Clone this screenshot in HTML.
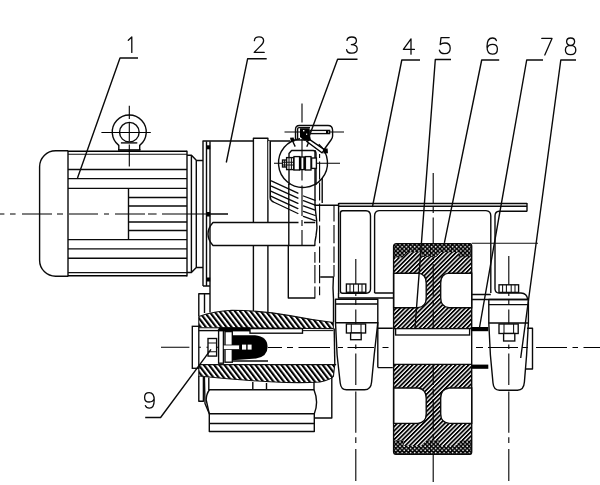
<!DOCTYPE html>
<html>
<head>
<meta charset="utf-8">
<title>Drive assembly</title>
<style>
html,body{margin:0;padding:0;background:#fff;}
body{width:600px;height:485px;overflow:hidden;font-family:"Liberation Sans",sans-serif;}
svg{display:block;}
.o{fill:none;stroke:#0a0a0a;stroke-width:1.4;stroke-linecap:butt;stroke-linejoin:round;}
.t{fill:none;stroke:#111;stroke-width:1.05;}
.k{fill:none;stroke:#000;stroke-width:1.6;}
.c{fill:none;stroke:#000;stroke-width:1.1;}
.w{fill:#fff;stroke:#0a0a0a;stroke-width:1.35;}
.b{fill:#000;stroke:none;}
.n{fill:none;stroke:#0a0a0a;stroke-width:1.3;stroke-linecap:round;stroke-linejoin:round;}
</style>
</head>
<body>
<svg width="600" height="485" viewBox="0 0 600 485">
<defs>
<pattern id="hw" width="3.05" height="8" patternUnits="userSpaceOnUse" patternTransform="rotate(45)"><rect x="0" y="0" width="1.75" height="8" fill="#000"/></pattern>
<pattern id="hs" width="4.1" height="8" patternUnits="userSpaceOnUse" patternTransform="rotate(-37.5)"><rect x="0" y="0" width="2.1" height="8" fill="#000"/></pattern>
<pattern id="ty" width="4.2" height="4.2" patternUnits="userSpaceOnUse"><rect width="4.2" height="4.2" fill="#000"/><circle cx="1" cy="1" r="0.85" fill="#fff"/><circle cx="3.1" cy="3.1" r="0.85" fill="#fff"/></pattern>
</defs>
<rect width="600" height="485" fill="#fff"/>

<!-- SECTION: centerlines -->
<g id="centerlines" class="c">
<path d="M0,214 H4.4 M10,214 H15.6 M22,214 H52 M57,214 H63 M69,214 H98 M104,214 H109 M115,214 H145 M148,214 H156.6 M162,214 H228"/>
<path d="M161,347.3 H189.4 M193.7,347.3 H200.9 M206.5,347.3 H223"/>
<path d="M268,347.5 H282 M287,347.5 H293 M298.5,347.5 H330 M338,347.5 H343 M347.5,347.5 H374 M382.5,347.5 H388.5 M394,347.5 H426 M431,347.5 H437 M441.6,347.5 H472 M476,347.5 H483 M488,347.5 H518 M522,347.5 H528 M536,347.5 H567 M572.5,347.5 H578 M583.5,347.5 H600"/>
<path d="M355.8,259 V296 M355.8,300 V305 M355.8,309.5 V340 M355.8,344.5 V349 M355.8,353.5 V385 M355.8,391.5 V432.7 M355.8,437.2 V443 M355.8,449 V481"/>
<path d="M433.2,173 V203.5 M433.2,206.5 V213 M433.2,217.5 V250 M433.2,254 V260 M433.2,264 V296 M433.2,300 V306 M433.2,310 V340 M433.2,344.5 V350.5 M433.2,354 V385 M433.2,389 V395 M433.2,399 V430 M433.2,434 V440 M433.2,444 V482"/>
<path d="M508.8,256 V296 M508.8,300 V305 M508.8,309.5 V340 M508.8,344.5 V349 M508.8,353.5 V385 M508.8,391.5 V432.7 M508.8,437.2 V443 M508.8,449 V481"/>
<path d="M302,103.5 V122.5 M302,139 V157 M302,169.6 V180.5 M302,185.5 V216 M302,220 V226 M302,230 V246"/>
</g>

<!-- SECTION: motor -->
<g id="motor">
<path class="o" d="M68,150.8 H55.6 A16,16 0 0 0 39.6,166.8 V260.3 A16,16 0 0 0 55.6,276.3 H68"/>
<path class="o" d="M68,150.7 V276.4"/>
<path class="k" d="M68,151.3 H187 M68,275.8 H187"/>
<path class="t" d="M68,154.3 H187 M68,272.6 H187"/>
<path class="o" stroke-width="1.2" d="M68,169.5 H187 M68,178.6 H187 M68,188.4 H187 M68,239.6 H187 M68,248.9 H187 M68,258.2 H187"/>
<path class="o" d="M128.5,188.3 V239.5"/>
<path class="o" stroke-width="1.2" d="M128.5,197.5 H187 M128.5,206 H187 M128.5,222 H187 M128.5,230.5 H187"/>
<path class="o" d="M187,150.7 V276.4"/>
<path class="o" d="M187,155.3 H191.5 L196.5,160.5 H203 M191.4,155.3 V272.5 M196.3,160.5 V267.5 M203,267.5 H196.3 L191.4,272.5 H187"/>
</g>

<!-- SECTION: eyebolt -->
<g id="eyebolt">
<path class="o" stroke-width="1.5" d="M118.8,150 V145.4 A17,17 0 1,1 139.7,145.4 V150"/>
<circle class="o" stroke-width="1.5" cx="129.35" cy="132.2" r="9.8"/>
<path class="o" d="M120.9,142.9 H137.3"/>
<path class="k" d="M118,150 H140.5"/>
<path class="c" stroke="#000" d="M101.4,132.5 H150.8 M129.3,105.8 V119 M129.3,122 V141.5 M129.3,144.6 V166.4"/>
</g>

<!-- SECTION: reducer -->
<g id="reducer">
<path class="o" d="M203,286 V141 H253.4 V138.3 H267.9 V141 H290"/>
<path class="o" d="M206.5,141.3 V286 M210,141.3 V286 M203,286 H210"/>
<rect class="b" x="206.8" y="145.3" width="3.4" height="4"/>
<rect class="b" x="206.8" y="212" width="3.4" height="4.5"/>
<rect class="b" x="206.8" y="277.5" width="3.4" height="4"/>
<path class="o" d="M253.4,141 V222.5 M267.9,141 V222.5 M253.4,245.5 V311 M267.9,245.5 V312"/>
<path d="M268,141 H270.2 V200 H268 Z" fill="#bbb"/>
<path class="o" d="M270.3,141 V197.5 Q270.5,200.8 273.5,202"/>
<!-- shaft -->
<path class="o" d="M298.5,222.5 H213 Q208,228 208,234 Q208,240 213,245.5 H315 M304,222.5 H315.2"/>
<path class="t" d="M210,214 H228"/>
<!-- right housing -->
<path class="o" d="M315,150 V205.3 H338.5"/>
<path class="o" d="M288.3,245.5 V298 H315"/>
<path class="o" d="M288.8,184 V245.5"/>
<path class="o" d="M322.2,178 V203"/>
<path class="c" stroke-width="1.4" d="M314.9,252 V262.8 M314.9,265 V283.3 M314.9,286.6 V298.5 M319.6,154 V158 M319.6,161.6 V179.6 M319.6,182.6 V200.6 M319.6,203.6 V221.6 M319.6,225.5 V243.3 M319.6,246.5 V262.8 M319.6,265 V283.3 M319.6,286.6 V295.2 M334,205.4 V221.6 M334,224.9 V243.3 M334,246.5 V262.8 M334,265 V276.8"/>
<path class="o" d="M320.2,277 H333.4 L333,288 L333.5,299 V322"/>
<path class="o" d="M315,205.3 Q315.6,212 316.6,220 Q317.6,228 316,236 Q314.6,242 314.8,246"/>
<!-- hatch on gear -->
<path class="n" stroke-width="1.5" d="M271.3,180.9 L297.9,193.2 M271.3,186.1 L297.9,198.2 M271.3,191.3 L297.9,203.4 M271.3,196.3 L297.9,208.6 M273.5,202 L297.9,213.5
 M303.4,196 L315.2,200.3 M303.4,200.7 L315.2,205.2 M303.4,205.9 L315.2,210.2 M303.4,211.4 L315.2,215.5 M303.4,216.4 L315.2,220.7"/>
<!-- lower-left of flange -->
<path class="o" d="M198.8,316 V293.7 H209.5 M204.5,293.7 V313 M210,286 V312.5"/>
</g>

<!-- SECTION: hollow shaft -->
<g id="hollow">
<path fill="url(#hs)" stroke="#111" stroke-width="1.1" d="M198.8,327.6 V316.6 Q214,311 232,310.3 Q262,310.5 290,315.6 Q312,320 333.3,322.5 V328.6 Z"/>
<path fill="url(#hs)" stroke="#111" stroke-width="1.1" d="M198.8,364.6 H335.5 L334.6,366 L333.4,376.5 Q331,379.6 320,382 Q300,383.4 270,381.8 Q232,379.6 198.8,376 Z"/>
<!-- end cap -->
<rect class="w" x="192.3" y="326.3" width="6.5" height="42"/>
<path class="o" d="M198.8,330.6 H218.5"/>
<rect class="w" x="218.6" y="329.8" width="4.8" height="33.4"/>
<rect class="w" x="225" y="331.6" width="7.3" height="30.6"/>
<!-- nut 9 -->
<rect class="w" x="208" y="338.5" width="8.6" height="17.6"/>
<path class="t" d="M208,343 H216.6 M208,351.7 H216.6"/>
<!-- seal blob -->
<rect class="b" x="218.6" y="327.4" width="31.4" height="4"/>
<path class="b" d="M232.3,335.3 H255 Q267.6,336.5 267.6,347 Q267.6,356.5 256,358.6 L232.3,360.2 Z"/>
<rect x="223.4" y="345" width="16" height="4.6" fill="#fff" stroke="#111" stroke-width="0.8"/>
<rect x="242" y="344.6" width="4.2" height="5" fill="#fff"/><rect x="247.6" y="344.6" width="4" height="5" fill="#fff"/>
<path class="o" d="M232.3,361 H268"/>
<!-- key -->
<rect class="w" x="250" y="328.6" width="52.5" height="4.6"/>
<path class="t" d="M302.5,330.6 H333.4"/>
<path class="o" d="M334.2,328.6 L334.8,364.6"/>
</g>

<!-- SECTION: reducer foot -->
<g id="foot">
<path class="o" d="M198.8,376 V401.3 H203.4 V377"/>
<path class="o" d="M208.8,377.5 V389.7 H314 V382"/>
<path class="o" d="M252.8,382 V390 M266.5,383 V390"/>
<path class="o" d="M209.5,389.7 Q206.2,394 206.2,400 L209.3,413.8 H314.3 Q319,402 314,389.7"/>
<path class="o" stroke-width="1.1" d="M204.4,377 L205,403.5 L209.3,413.8"/>
<path class="o" d="M209.3,414 V431.5 H314.3 V414 M209.3,423.5 H314.3"/>
<path class="o" d="M331.8,376 V418 H314.3"/>
</g>

<!-- SECTION: bracket -->
<g id="bracket">
<path class="o" stroke-width="1.2" d="M338.6,203.5 H527 M338.6,206.3 H527"/>
<path class="o" d="M338.6,203 V294 M527,203 V211.6"/>
<path class="o" d="M340.4,291 V213 Q340.4,210.8 342.6,210.8 H366 Q370.5,211 370.5,216 V289 Q370.5,293 366,293.3 H342.6 Q340.4,293.2 340.4,291"/>
<path class="o" d="M374.6,293 V216 Q374.6,211 379,210.6 H486 Q490.8,211 490.8,216 V293"/>
<path class="o" d="M495,289 V216 Q495,211.6 499,211.3 H527 M495,289 Q495.3,293 499,293 H521 Q527,293.5 527.6,299"/>
<path class="o" d="M338.5,293.5 V298 H393.6 M374.6,293 H393.6"/>
<path class="o" d="M471.7,294.5 H490.8 M471.7,299.5 H528.5"/>
</g>

<!-- SECTION: bearing blocks -->
<g id="bearings">
<path class="o" d="M335.5,299.2 H377.8 V322.6 L374.2,355 L371.6,382 Q371,389.8 364.5,389.8 H346.5 Q341,389.8 340.2,383 L337.1,355 L335.5,322.6 Z"/>
<path class="o" d="M335.5,304 H377.8 M335.5,322.8 H377.8"/>
<!-- left bolts -->
<rect class="w" x="346.4" y="284" width="19.4" height="8.3"/>
<path class="t" d="M350,284 V292.3 M353.6,284 V292.3 M358.4,284 V292.3 M362,284 V292.3"/>
<rect class="w" x="346.4" y="324" width="19.2" height="9"/>
<path class="t" d="M351.3,324 V333 M361,324 V333"/>
<rect class="w" x="350.6" y="333" width="10.6" height="6.7"/>
<!-- right block -->
<path class="o" d="M488.8,299.5 H528.4 V323 L526.6,355 L524.4,382 Q523.8,390.2 517.5,390.2 H499.5 Q493.6,390.2 493,383 L490.4,355 L488.8,323 Z"/>
<path class="o" d="M488.8,304.6 H528.4 M488.8,323 H528.4"/>
<rect class="w" x="499" y="284.8" width="19.6" height="7.6"/>
<path class="t" d="M502.6,284.8 V292.4 M506.4,284.8 V292.4 M511.2,284.8 V292.4 M515,284.8 V292.4"/>
<rect class="w" x="499" y="324" width="19.2" height="9.5"/>
<path class="t" d="M504,324 V333.5 M513.6,324 V333.5"/>
<rect class="w" x="503.6" y="333.5" width="11.2" height="7.5"/>
<!-- end cap right -->
<path class="o" d="M527,328.3 H532.5 V369 H525.5"/>
<!-- spacers -->
<path class="o" d="M377.8,328.2 H392.8 M377.8,367.6 H392.8 M377.8,322 V367.6"/>
</g>

<!-- SECTION: wheel -->
<g id="wheel">
<path fill="url(#hw)" stroke="none" d="M393.6,250 H471.7 V329 H393.6 Z M393.6,364.4 H471.7 V448 H393.6 Z"/>
<!-- tyre -->
<path fill="url(#ty)" d="M396.6,243.6 H470 Q471.7,243.6 471.7,246.6 V257.2 H458.5 V252.3 H440.8 L436.2,256.9 H421.7 V252.3 H407.5 L402.4,257.4 H393.6 V246.6 Q393.6,243.6 396.6,243.6 Z"/>
<path fill="url(#ty)" d="M393.6,440.5 H403.7 V445.7 H421.5 L426.7,440.5 H439 V445.7 H455.3 L460.5,440.5 H471.7 V451.5 Q471.7,454.4 470,454.4 H396 Q393.6,454.4 393.6,451.5 Z"/>
<!-- pockets -->
<path class="w" d="M393.6,273.2 H418 Q426.2,274 426.2,283 V298 Q426.2,307 418,307.7 H393.6 Z"/>
<path class="w" d="M471.7,273.2 H449 Q440.7,274 440.7,283 V298 Q440.7,307 449,307.7 H471.7 Z"/>
<path class="w" d="M393.6,388 H418 Q426.2,389 426.2,398 V414 Q426.2,422.5 418,423.4 H393.6 Z"/>
<path class="w" d="M471.7,388 H449 Q440.7,389 440.7,398 V414 Q440.7,422.5 449,423.4 H471.7 Z"/>
<!-- bore -->
<rect x="393.6" y="328.6" width="78.1" height="35.8" fill="#fff"/>
<path class="o" d="M393.6,328.6 H471.5 M393.6,364.4 H471.5"/>
<rect class="w" x="395.6" y="328.6" width="74" height="6.4"/>
<path class="o" d="M396.6,243.6 H470 Q471.7,243.6 471.7,246.6 V451.5 Q471.7,454.4 470,454.4 H396 Q393.6,454.4 393.6,451.5 V246.6 Q393.6,243.6 396.6,243.6 Z"/>
<!-- keys black -->
<rect class="b" x="471.5" y="327" width="16.8" height="4.2"/>
<rect class="b" x="471.5" y="364.6" width="16.8" height="4.2"/>
<path class="t" d="M471.7,243.2 H538"/>
</g>

<!-- SECTION: coupling detail 3 -->
<g id="detail3">
<circle class="o" stroke-width="1.8" cx="303" cy="163" r="24.5" stroke-dasharray="133 21" transform="rotate(-50 303 163)"/>
<path class="c" d="M284.5,132 H344 M274,163.3 H340"/>
<!-- outer bracket -->
<path class="o" stroke-width="1.5" d="M295.5,140 V129.5 Q295.5,125.5 299.5,125.5 H328 Q332.6,125.5 332.6,130.5 V136 Q332.6,138 331,140 L324.5,149"/>
<path class="o" stroke-width="1.1" d="M297.6,139.5 V129 Q297.6,127.6 299,127.6 H310"/>
<path class="o" d="M295,140 H309"/>
<!-- arm band -->
<path d="M309.8,139.6 L324.4,149.6 L322,152.8 L306.8,141.6 Z" fill="#fff" stroke="#000" stroke-width="1.3"/>
<path class="b" d="M322.8,148.6 L327.6,148.4 L328,153.2 L323.6,153.6 Z"/>
<!-- dark pivot -->
<path class="b" d="M300,128.2 H309.6 V133 L311,140.4 H304 L300,137 Z"/>
<rect x="303" y="130" width="1.4" height="1.4" fill="#fff"/><rect x="306" y="133.6" width="1.2" height="1.2" fill="#fff"/>
<rect class="w" stroke-width="1.1" x="310" y="130.4" width="19.6" height="3.2"/>
<rect class="b" x="326" y="130.4" width="2.4" height="3.2"/>
<!-- ticks -->
<path class="b" d="M290,137.8 L293.6,137.4 L294.6,141.4 L291,142 Z"/>
<path class="o" stroke-width="1.2" d="M292.6,141 L295.2,146.6 M308.6,142.4 L306.8,146.8"/>
<!-- inner bracket & bolt -->
<path class="o" d="M289,185 V153.5 L291.6,150.5 H313 Q316,150.5 316,153.5 V185"/>
<rect class="w" x="282.5" y="160" width="4.5" height="7"/>
<rect class="w" x="286.6" y="157.6" width="7" height="12"/>
<path class="t" d="M284.6,160 V167 M289,157.6 V169.6 M291.4,157.6 V169.6 M282.5,162.2 H293.6 M282.5,165 H293.6"/>
<rect class="w" x="294" y="156.6" width="5.6" height="13.4"/>
<rect x="299.6" y="157" width="5.6" height="12.6" fill="#fff" stroke="#000" stroke-width="1.3"/><path d="M300.6,157 V169.6 M304.2,157 V169.6" stroke="#000" stroke-width="1.7" fill="none"/>
<rect class="w" x="305.4" y="156.6" width="5.6" height="13.4"/>
<rect class="w" stroke-width="1.6" x="311.6" y="158" width="4.8" height="10.4"/>
</g>

<!-- SECTION: labels and leaders -->
<g id="leaders" class="o" stroke-width="1.1">
<path d="M138,58 H120 L77.5,178"/>
<path d="M266.7,58.8 H247.6 L226.3,162.5"/>
<path d="M357.5,59.2 H337.6 L309,137"/>
<path d="M420,60 H401.8 L372.4,207"/>
<path d="M451,59.5 H435.3 L415,328"/>
<path d="M499.2,60 H481.7 L444.4,242.8"/>
<path d="M543,60 H526.7 L479.5,327.5"/>
<path d="M576,60 H560.8 L520.7,358"/>
<path d="M145.2,417.5 H160.6 L211,349.3"/>
</g>
<g id="labels" class="n">
<!-- 1 -->
<path d="M128.3,40.2 L131.8,37 V52.4"/>
<!-- 2 -->
<path d="M254.4,40.6 Q254.6,36.8 259,36.8 Q263.6,36.8 263.6,40.8 Q263.6,43.6 260,46.4 L254.2,52.4 H264.2"/>
<!-- 3 -->
<path d="M347,40.4 Q347.4,37 351.8,37 Q356.4,37 356.4,40.8 Q356.4,44.4 351.4,44.6 Q357.2,44.8 357.2,48.8 Q357.2,53.2 351.8,53.2 Q347,53.2 346.6,49.6"/>
<!-- 4 -->
<path d="M411,54.2 V38.8 L403.4,49.4 H414.4"/>
<!-- 5 -->
<path d="M449.2,37.6 H441 L440.2,44.6 Q442,43 445,43 Q450.2,43 450.2,48.2 Q450.2,53.6 444.8,53.6 Q440.4,53.6 439.4,50.2"/>
<!-- 6 -->
<path d="M496.4,40.6 Q495.6,38 492.4,38 Q487,38 487,46.6 Q487,54.2 492.4,54.2 Q497.4,54.2 497.4,49 Q497.4,44.4 492.6,44.4 Q488.4,44.4 487.2,48"/>
<!-- 7 -->
<path d="M541.8,38.4 H552 L544.8,55"/>
<!-- 8 -->
<path d="M570.6,38 Q566.6,38 566.6,41.6 Q566.6,45.2 570.6,45.4 Q574.6,45.2 574.6,41.6 Q574.6,38 570.6,38 Z M570.6,45.4 Q565.4,45.6 565.4,50 Q565.4,54.6 570.6,54.6 Q575.8,54.6 575.8,50 Q575.8,45.6 570.6,45.4 Z"/>
<!-- 9 -->
<path d="M145.4,405.6 Q146.2,408.2 149.4,408.2 Q154.2,408.2 154.2,400 Q154.2,392.6 149.2,392.6 Q144.6,392.6 144.6,397.4 Q144.6,402 149.2,402 Q153,402 154.2,398.6"/>
</g>
</svg>
</body>
</html>
